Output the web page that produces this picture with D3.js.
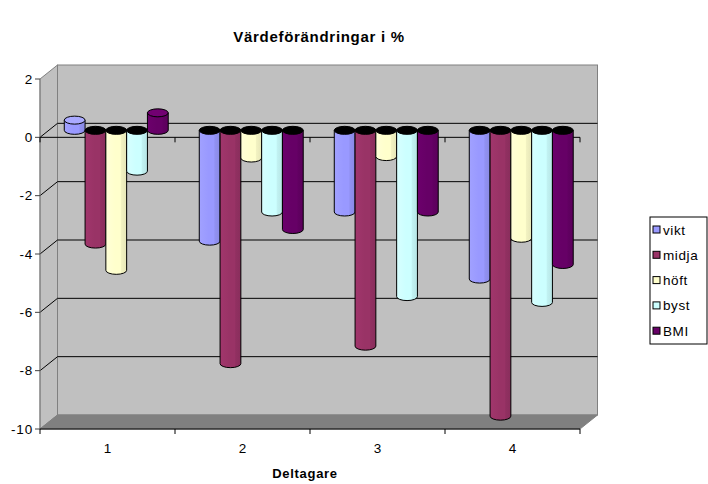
<!DOCTYPE html>
<html>
<head>
<meta charset="utf-8">
<script src="https://cdn.jsdelivr.net/npm/d3@7"></script>
<style>
body { margin: 0; background: #fff; }
text { font-family: "Liberation Sans", Arial, sans-serif; }
</style>
</head>
<body>
<div id="chart"></div>
<script>
const categories = ['1', '2', '3', '4'];
const series = ['vikt', 'midja', 'höft', 'byst', 'BMI'];
const vikt = [0.35, -3.8, -2.8, -5.1];
const midja = [-3.9, -8.0, -7.4, -9.8];
const hoft = [-4.8, -0.95, -0.9, -3.7];
const byst = [-1.4, -2.8, -5.7, -5.9];
const bmi = [0.6, -3.4, -2.8, -4.6];
const yTicks = [2, 0, -2, -4, -6, -8, -10];
const colors = ['#9999FF', '#993366', '#FFFFCC', '#CCFFFF', '#660066'];

const values = [vikt, midja, hoft, byst, bmi];

const width = 708, height = 484;
const left = 40, right = 580, depthX = 17.5, depthY = -14;

const svg = d3.select('#chart').append('svg')
    .attr('width', width)
    .attr('height', height);

const y = d3.scaleLinear().domain([-10, 2]).range([429, 79]);
const x0 = d3.scaleBand().domain(categories).range([left, right])
    .paddingInner(0.23).paddingOuter(0.115);
const x1 = d3.scaleBand().domain(series).range([0, x0.bandwidth()]);

// gradients for cylinder shading
const defs = svg.append('defs');
colors.forEach((c, i) => {
    const g = defs.append('linearGradient').attr('id', 'g' + i)
        .attr('x1', 0).attr('x2', 1).attr('y1', 0).attr('y2', 0);
    g.append('stop').attr('offset', '0%').attr('stop-color', d3.color(c).brighter(0.15));
    g.append('stop').attr('offset', '45%').attr('stop-color', c);
    g.append('stop').attr('offset', '70%').attr('stop-color', c);
    g.append('stop').attr('offset', '75%').attr('stop-color', d3.color(c).darker(0.15));
    g.append('stop').attr('offset', '100%').attr('stop-color', d3.color(c).darker(0.3));
});

// walls and floor
svg.append('polygon')
    .attr('points', [[left, y(2)], [left + depthX, y(2) + depthY], [left + depthX, y(-10) + depthY], [left, y(-10)]].join(' '))
    .attr('fill', '#c0c0c0').attr('stroke', '#808080');
svg.append('rect')
    .attr('x', left + depthX).attr('y', y(2) + depthY)
    .attr('width', right - left).attr('height', y(-10) - y(2))
    .attr('fill', '#c0c0c0').attr('stroke', '#808080');
svg.append('polygon')
    .attr('points', [[left, y(-10)], [right, y(-10)], [right + depthX, y(-10) + depthY], [left + depthX, y(-10) + depthY]].join(' '))
    .attr('fill', '#808080').attr('stroke', '#808080');

// gridlines
const grid = svg.append('g').attr('stroke', '#000').attr('fill', 'none');
yTicks.filter(v => v > -10 && v < 2).forEach(v => {
    grid.append('path')
        .attr('d', `M${left},${y(v)}L${left + depthX},${y(v) + depthY}H${right + depthX}`);
});

// y axis
const yAxis = svg.append('g');
yAxis.append('line').attr('x1', left).attr('x2', left)
    .attr('y1', y(2)).attr('y2', y(-10)).attr('stroke', '#808080');
yTicks.forEach(v => {
    yAxis.append('line').attr('x1', left - 5).attr('x2', left)
        .attr('y1', y(v)).attr('y2', y(v)).attr('stroke', '#404040');
    yAxis.append('text').attr('x', left - 7).attr('y', y(v) + 4.5)
        .attr('text-anchor', 'end').attr('font-size', 13.5).attr('letter-spacing', 0.8).text(v);
});

// category axis at zero and at the bottom
const bounds = [left].concat(categories.map(c => x0(c) - x0.step() * 0.115 + x0.step()));
[0, -10].forEach(v => {
    const ax = svg.append('g').attr('stroke', '#000');
    ax.append('line').attr('x1', left).attr('x2', right).attr('y1', y(v)).attr('y2', y(v));
    bounds.forEach(b => {
        ax.append('line').attr('x1', b).attr('x2', b).attr('y1', y(v)).attr('y2', y(v) + 5);
    });
});
svg.append('g').selectAll('text').data(categories).enter().append('text')
    .attr('x', d => x0(d) + x0.bandwidth() / 2)
    .attr('y', 453)
    .attr('text-anchor', 'middle').attr('font-size', 13.5)
    .text(d => d);

// cylinders, placed half way into the depth
const ry = 4;
const bars = svg.append('g');
categories.forEach((c, ci) => {
    series.forEach((s, si) => {
        const v = values[si][ci];
        const xl = x0(c) + x1(s) + depthX / 2;
        const w = x1.bandwidth();
        const xr = xl + w;
        const y0 = y(0) + depthY / 2;
        const yv = y(v) + depthY / 2;
        const g = bars.append('g').attr('stroke', '#000').attr('stroke-width', 1);
        if (v < 0) {
            g.append('path')
                .attr('d', `M${xl},${y0}L${xl},${yv}A${w / 2},${ry} 0 0 0 ${xr},${yv}L${xr},${y0}Z`)
                .attr('fill', `url(#g${si})`);
            g.append('ellipse').attr('cx', xl + w / 2).attr('cy', y0)
                .attr('rx', w / 2).attr('ry', ry).attr('fill', '#000');
        } else {
            g.append('path')
                .attr('d', `M${xl},${yv}L${xl},${y0}A${w / 2},${ry} 0 0 0 ${xr},${y0}L${xr},${yv}Z`)
                .attr('fill', `url(#g${si})`);
            g.append('ellipse').attr('cx', xl + w / 2).attr('cy', yv)
                .attr('rx', w / 2).attr('ry', ry)
                .attr('fill', d3.color(colors[si]).brighter(0.3));
        }
    });
});

// titles
svg.append('text').attr('x', 319).attr('y', 42)
    .attr('text-anchor', 'middle').attr('font-size', 15).attr('font-weight', 'bold')
    .attr('letter-spacing', 0.7)
    .text('Värdeförändringar i %');
svg.append('text').attr('x', 305).attr('y', 478)
    .attr('text-anchor', 'middle').attr('font-size', 13).attr('font-weight', 'bold')
    .attr('letter-spacing', 0.7)
    .text('Deltagare');

// legend
const legend = svg.append('g').attr('transform', 'translate(650,217)');
legend.append('rect').attr('x', 0).attr('y', 0).attr('width', 57).attr('height', 127)
    .attr('fill', '#fff').attr('stroke', '#000');
series.forEach((s, i) => {
    const ly = 13 + i * 25.3;
    legend.append('rect').attr('x', 3).attr('y', ly - 4).attr('width', 7).attr('height', 7)
        .attr('fill', colors[i]).attr('stroke', '#000');
    legend.append('text').attr('x', 13).attr('y', ly + 4.5).attr('font-size', 13.5)
        .attr('letter-spacing', 0.6).text(s);
});
</script>
</body>
</html>
